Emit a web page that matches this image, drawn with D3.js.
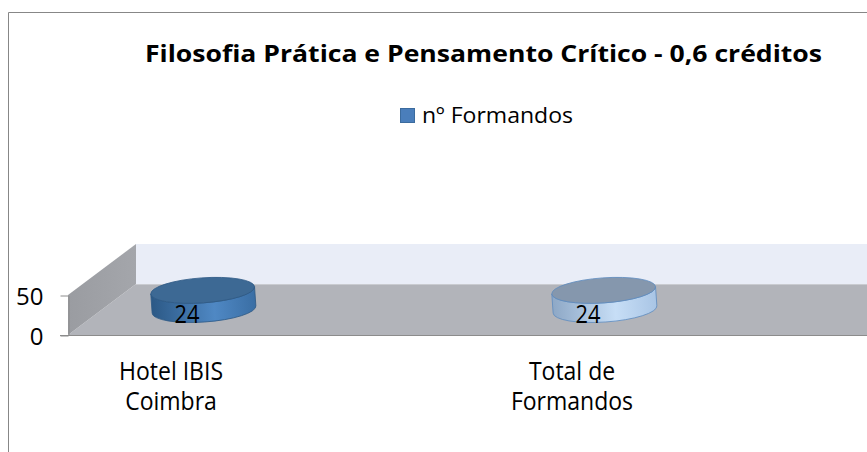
<!DOCTYPE html>
<html lang="pt">
<head>
<meta charset="UTF-8">
<title>Filosofia Prática e Pensamento Crítico</title>
<script src="https://d3js.org/d3.v7.min.js"></script>
<style>
  body { margin: 0; background: #fff; }
  svg { display: block; font-family: "Open Sans", "Noto Sans", sans-serif; }
  .lbl { font-size: 25px; fill: #000; }
</style>
</head>
<body>
<svg id="chart" width="867" height="452"></svg>
<script>
const title = "Filosofia Prática e Pensamento Crítico - 0,6 créditos";
const seriesName = "nº Formandos";
const categories = ["Hotel IBIS Coimbra", "Total de Formandos"];
const categoryLines = [["Hotel IBIS", "Coimbra"], ["Total de", "Formandos"]];
const values = [24, 24];
const yTicks = [0, 50];

// per point look (second disc is the total, lighter)
const topFill = ["#3d6994", "#8597ad"];
const sideStops = [["#2c5986", "#4f88c4", "#3a6ea4"], ["#8ea8c6", "#c7def6", "#a9c5e5"]];
const edge = ["#2e5a85", "#5f8cbf"];

const W = 867, H = 452;
const svg = d3.select("#chart");
const defs = svg.append("defs");

// outer chart frame (cropped)
svg.append("path").attr("d", `M8.5,${H} V12.5 H${W}`)
  .attr("fill", "none").attr("stroke", "#878787");

// title
svg.append("text").attr("x", 145).attr("y", 62)
  .attr("textLength", 677).attr("lengthAdjust", "spacingAndGlyphs")
  .style("font-size", "24px").style("font-weight", "bold").text(title);

// legend
svg.append("rect").attr("x", 400.5).attr("y", 108.5).attr("width", 14).attr("height", 14)
  .attr("fill", "#4a7ebb").attr("stroke", "#3b6b9e");
svg.append("text").attr("class", "lbl").attr("x", 422).attr("y", 123)
  .attr("textLength", 151).attr("lengthAdjust", "spacingAndGlyphs")
  .style("font-size", "22px").text(seriesName);

// 3d box: front plane scales + depth offset
const y = d3.scaleLinear().domain([0, 50]).range([335, 295]);
const x = d3.scalePoint().domain(categories).range([170, 571]);
const dx = 68, dy = -51;
const x0 = 68, xEnd = W + 100;

// back wall
svg.append("polygon")
  .attr("points", [[x0 + dx, y(50) + dy], [xEnd, y(50) + dy], [xEnd, y(0) + dy], [x0 + dx, y(0) + dy]].join(" "))
  .attr("fill", "#e9edf7");
// floor
svg.append("polygon")
  .attr("points", [[x0, y(0)], [xEnd, y(0)], [xEnd, y(0) + dy], [x0 + dx, y(0) + dy]].join(" "))
  .attr("fill", "#b2b4ba");
svg.append("line").attr("x1", x0 + dx).attr("x2", xEnd).attr("y1", y(0) + dy + 0.5).attr("y2", y(0) + dy + 0.5)
  .attr("stroke", "#c9cbd0");
// side wall
const wg = defs.append("linearGradient").attr("id", "wallG").attr("x1", 0).attr("x2", 1).attr("y1", 0).attr("y2", 0);
wg.append("stop").attr("offset", 0).attr("stop-color", "#9a9ca1");
wg.append("stop").attr("offset", 1).attr("stop-color", "#a4a6ab");
svg.append("polygon")
  .attr("points", [[x0, y(0)], [x0, y(50)], [x0 + dx, y(50) + dy], [x0 + dx, y(0) + dy]].join(" "))
  .attr("fill", "url(#wallG)");
// front floor edge
svg.append("line").attr("x1", 60).attr("x2", W).attr("y1", y(0) + 0.5).attr("y2", y(0) + 0.5)
  .attr("stroke", "#8c8c8c");

// y axis
const yAxis = svg.append("g").attr("transform", `translate(${x0 + 0.5},0.5)`)
  .call(d3.axisLeft(y).tickValues(yTicks).tickSize(8).tickSizeOuter(0).tickPadding(17));
yAxis.select(".domain").attr("stroke", "#8c8c8c");
yAxis.selectAll(".tick line").attr("stroke", "#8c8c8c");
yAxis.selectAll(".tick text").attr("font-family", "Open Sans, sans-serif")
  .attr("font-size", 24).attr("fill", "#000").attr("dy", "0.38em");

// cylinders
const rx = 52, ry = 12.5;
categories.forEach((c, i) => {
  const g = defs.append("linearGradient").attr("id", "side" + i)
    .attr("x1", 0).attr("x2", 1).attr("y1", 0).attr("y2", 0);
  sideStops[i].forEach((col, k) => g.append("stop").attr("offset", [0, 0.6, 1][k]).attr("stop-color", col));

  const cx = x(c) + dx / 2;
  const baseY = y(0) + dy / 2;
  const topY = baseY - (y(0) - y(values[i]));
  const cyl = svg.append("g").attr("transform", `rotate(-4,${cx},${baseY})`);
  cyl.append("path")
    .attr("d", `M${cx - rx},${topY} L${cx - rx},${baseY} A${rx},${ry} 0 0 0 ${cx + rx},${baseY} ` +
               `L${cx + rx},${topY} A${rx},${ry} 0 0 1 ${cx - rx},${topY} Z`)
    .attr("fill", `url(#side${i})`).attr("stroke", edge[i]).attr("stroke-width", 0.8);
  cyl.append("ellipse").attr("cx", cx).attr("cy", topY).attr("rx", rx).attr("ry", ry)
    .attr("fill", topFill[i]).attr("stroke", edge[i]).attr("stroke-width", 0.8);

  // data label
  svg.append("text").attr("class", "lbl").attr("x", x(c) + 17).attr("y", baseY + 13)
    .attr("text-anchor", "middle").text(values[i])
    .attr("textLength", 25).attr("lengthAdjust", "spacingAndGlyphs");
});

// category labels
categories.forEach((c, i) => {
  categoryLines[i].forEach((ln, k) => {
    const t = svg.append("text").attr("class", "lbl")
      .attr("x", x(c) + 1).attr("y", 380 + k * 30).attr("text-anchor", "middle").text(ln);
    const w = t.node().getComputedTextLength();
    t.attr("textLength", w * 0.92).attr("lengthAdjust", "spacingAndGlyphs");
  });
});
</script>
</body>
</html>
